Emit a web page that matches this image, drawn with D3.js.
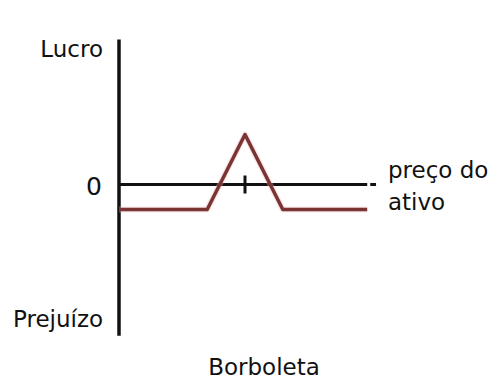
<!DOCTYPE html>
<html>
<head>
<meta charset="utf-8">
<script src="https://cdn.jsdelivr.net/npm/d3@7"></script>
<style>
  html, body { margin: 0; padding: 0; background: #fff; }
  svg { display: block; }
  text { font-family: "DejaVu Sans", Verdana, sans-serif; fill: #111; }
</style>
</head>
<body>
<svg id="chart" width="495" height="381"></svg>
<script>
// Data: butterfly (borboleta) payoff, price vs profit
const prices  = [0, 3.5, 5, 6.5, 9.85];
const profits = [-1, -1, 2, -1, -1];
const strike = 5;
const yLabels = { top: "Lucro", bottom: "Prejuízo", zero: "0" };
const xLabelLines = ["preço do", "ativo"];
const title = "Borboleta";

const svg = d3.select("#chart");
const x = d3.scaleLinear().domain([0, 10]).range([119, 371]);
const y = d3.scaleLinear().domain([-6, 6]).range([334.5, 34.5]);

// vertical axis
svg.append("line")
  .attr("x1", x(0)).attr("x2", x(0))
  .attr("y1", y(5.8)).attr("y2", y(-6.05))
  .attr("stroke", "#111").attr("stroke-width", 3.5);

// horizontal axis
svg.append("line")
  .attr("x1", x(0)).attr("x2", x(9.85))
  .attr("y1", y(0)).attr("y2", y(0))
  .attr("stroke", "#111").attr("stroke-width", 3);
svg.append("line")
  .attr("x1", x(9.97)).attr("x2", x(10.2))
  .attr("y1", y(0)).attr("y2", y(0))
  .attr("stroke", "#111").attr("stroke-width", 3);

// strike tick
svg.append("line")
  .attr("x1", x(strike)).attr("x2", x(strike))
  .attr("y1", y(0.36)).attr("y2", y(-0.36))
  .attr("stroke", "#111").attr("stroke-width", 3);

// payoff line
const line = d3.line().x((d, i) => x(prices[i])).y(d => y(d));
svg.append("path")
  .attr("d", line(profits))
  .attr("fill", "none")
  .attr("stroke", "#e8b4b4").attr("stroke-width", 6)
  .attr("stroke-opacity", 0.35)
  .attr("stroke-linejoin", "round");
svg.append("path")
  .attr("d", line(profits))
  .attr("fill", "none")
  .attr("stroke", "#7a3434").attr("stroke-width", 3.5)
  .attr("stroke-linejoin", "round");

// labels
svg.append("text").attr("x", 103).attr("y", 57).attr("text-anchor", "end")
  .attr("font-size", 23).text(yLabels.top);
svg.append("text").attr("x", 13).attr("y", 327).attr("text-anchor", "start")
  .attr("font-size", 23).text(yLabels.bottom);
svg.append("text").attr("x", 102).attr("y", 195).attr("text-anchor", "end")
  .attr("font-size", 25).text(yLabels.zero);
svg.selectAll("text.xl").data(xLabelLines).enter().append("text")
  .attr("class", "xl")
  .attr("x", 388).attr("y", (d, i) => 178 + i * 32)
  .attr("font-size", 23).text(d => d);
svg.append("text").attr("x", 264).attr("y", 375).attr("text-anchor", "middle")
  .attr("font-size", 23).text(title);
</script>
</body>
</html>
